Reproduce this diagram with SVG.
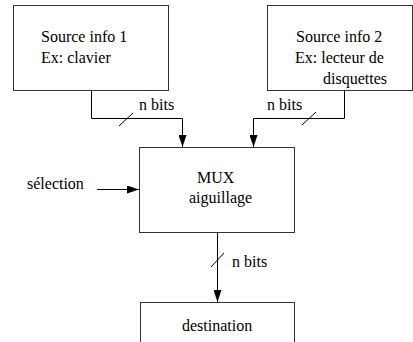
<svg xmlns="http://www.w3.org/2000/svg" width="413" height="342" viewBox="0 0 413 342">
<style>
.box{fill:#fff;stroke:#333;stroke-width:1}
.t{font-family:"Liberation Serif","Times New Roman",serif;font-size:16px;fill:#000}
.w{fill:none;stroke:#000;stroke-width:1}
</style>
<defs>
<marker id="ah" markerWidth="12" markerHeight="8" refX="12" refY="4" orient="auto" markerUnits="userSpaceOnUse">
<path d="M0,0 L12,4 L0,8 Z" fill="#000"/>
</marker>
</defs>
<rect width="413" height="342" fill="#fff"/>
<g id="src1">
<rect class="box" x="13.5" y="5.5" width="155" height="85"/>
<text class="t" x="41" y="42">Source info 1</text>
<text class="t" x="41" y="63">Ex: clavier</text>
</g>
<g id="src2">
<rect class="box" x="267.5" y="5.5" width="145" height="85"/>
<text class="t" x="296" y="42">Source info 2</text>
<text class="t" x="295" y="63">Ex: lecteur de</text>
<text class="t" x="323" y="84">disquettes</text>
</g>
<g id="mux">
<rect class="box" x="139.5" y="147.5" width="155" height="85"/>
<text class="t" x="197" y="183">MUX</text>
<text class="t" x="189" y="203">aiguillage</text>
</g>
<g id="dest">
<rect class="box" x="140.5" y="302.5" width="154" height="50"/>
<text class="t" x="182" y="331">destination</text>
</g>
<g id="connectors">
<path class="w" d="M91.5,90 V118.5 H182.5 V147" marker-end="url(#ah)"/>
<line class="w" x1="119" y1="126" x2="133" y2="113"/>
<text class="t" x="139" y="110">n bits</text>
<path class="w" d="M344.5,90 V118.5 H253.5 V147" marker-end="url(#ah)"/>
<line class="w" x1="302" y1="125" x2="316" y2="112"/>
<text class="t" x="267" y="110">n bits</text>
<path class="w" d="M97,189.5 H139" marker-end="url(#ah)"/>
<text class="t" x="27" y="189">sélection</text>
<path class="w" d="M217.5,232 V302" marker-end="url(#ah)"/>
<line class="w" x1="211" y1="267" x2="224" y2="253"/>
<text class="t" x="232" y="267">n bits</text>
</g>
</svg>
